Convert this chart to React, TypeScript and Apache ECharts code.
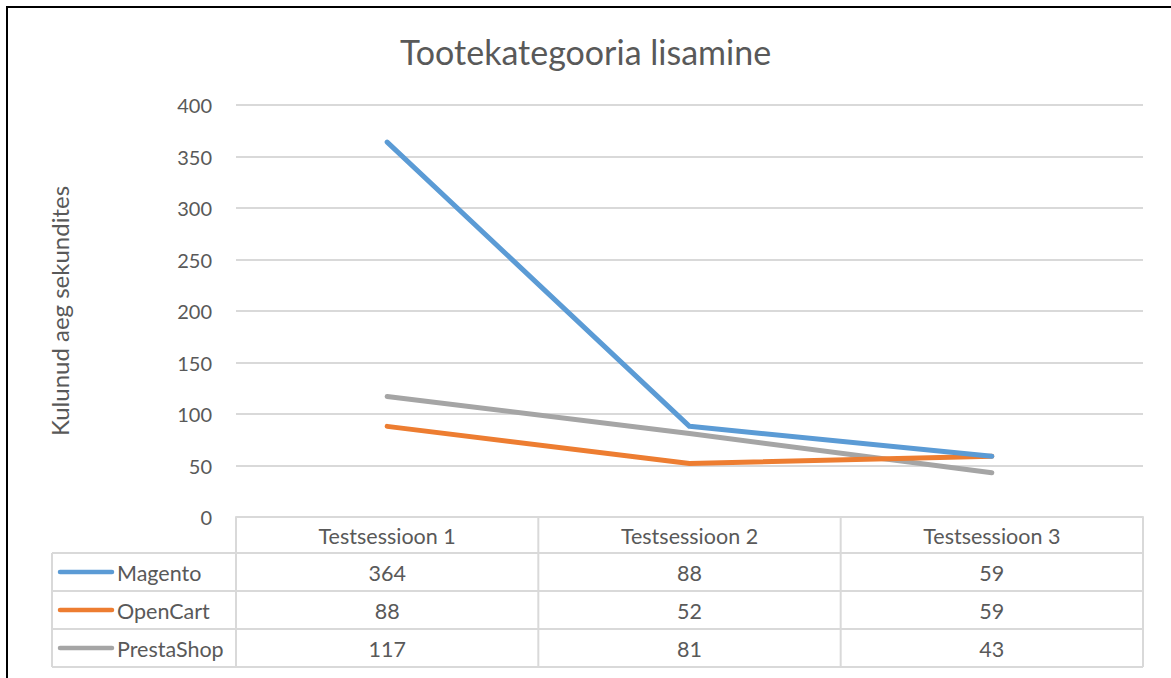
import React, { useEffect, useRef } from "react";
import * as echarts from "echarts";

const categories = ["Testsessioon 1", "Testsessioon 2", "Testsessioon 3"];
const seriesNames = ["Magento", "OpenCart", "PrestaShop"];
const magento = [364, 88, 59];
const openCart = [88, 52, 59];
const prestaShop = [117, 81, 43];
const yTicks = [0, 50, 100, 150, 200, 250, 300, 350, 400];

const colors = ["#5B9BD5", "#ED7D31", "#A5A5A5"];
const FONT = "Lato, 'Open Sans', sans-serif";
const TXT = "#595959";
const GRIDC = "#d9d9d9";

export default function App() {
  const ref = useRef<HTMLDivElement>(null);
  useEffect(() => {
    document.body.style.margin = "0";
    const chart = echarts.init(ref.current!, null, { renderer: "svg" });
    const W = 1171;
    const H = 678;
    const gl = 236, gr = 1143, gt = 105, gb = 517;
    const rowH = 38;
    const headerH = 36;
    const tableLeft = 52;
    const seriesData = [magento, openCart, prestaShop];
    const colW = (gr - gl) / categories.length;
    const g: any[] = [];
    // frame
    g.push({ type: "rect", shape: { x: 7, y: 7, width: W + 20, height: H + 20 }, style: { fill: "none", stroke: "#000", lineWidth: 2 }, silent: true });
    const line = (x1: number, y1: number, x2: number, y2: number) =>
      g.push({ type: "line", shape: { x1, y1, x2, y2 }, style: { stroke: GRIDC, lineWidth: 2 }, silent: true });
    const rowTop0 = gb + headerH;
    const tableBottom = rowTop0 + rowH * seriesNames.length;
    for (let i = 0; i <= categories.length; i++) {
      const x = gl + colW * i;
      line(x, gb, x, tableBottom);
    }
    line(tableLeft, rowTop0, tableLeft, tableBottom);
    for (let r = 0; r <= seriesNames.length; r++) {
      const y = rowTop0 + rowH * r;
      line(tableLeft, y, gr, y);
    }
    const tf = `21.5px ${FONT}`;
    categories.forEach((c, i) => {
      g.push({ type: "text", x: gl + colW * (i + 0.5), y: gb + headerH / 2 + 1, style: { text: c, fill: TXT, font: tf, align: "center", verticalAlign: "middle" }, silent: true });
    });
    seriesNames.forEach((n, r) => {
      const yc = rowTop0 + rowH * (r + 0.5);
      g.push({ type: "line", shape: { x1: 60, y1: yc, x2: 112, y2: yc }, style: { stroke: colors[r], lineWidth: 4.5, lineCap: "round" }, silent: true });
      g.push({ type: "text", x: 117, y: yc + 1, style: { text: n, fill: TXT, font: tf, align: "left", verticalAlign: "middle" }, silent: true });
      seriesData[r].forEach((v, i) => {
        g.push({ type: "text", x: gl + colW * (i + 0.5), y: yc + 1, style: { text: String(v), fill: TXT, font: tf, align: "center", verticalAlign: "middle" }, silent: true });
      });
    });

    chart.setOption({
      animation: false,
      backgroundColor: "#fff",
      title: {
        text: "Tootekategooria lisamine",
        left: "center",
        top: 29,
        textStyle: { color: TXT, fontSize: 34, fontWeight: "normal", fontFamily: FONT },
      },
      grid: { left: gl, right: W - gr, top: gt, bottom: H - gb, containLabel: false },
      xAxis: {
        type: "category",
        data: categories,
        boundaryGap: true,
        axisLine: { show: true, lineStyle: { color: GRIDC, width: 2 } },
        axisTick: { show: false },
        axisLabel: { show: false },
      },
      yAxis: {
        type: "value",
        min: yTicks[0],
        max: yTicks[yTicks.length - 1],
        interval: 50,
        name: "Kulunud aeg sekundites",
        nameLocation: "middle",
        nameGap: 165,
        nameRotate: 90,
        nameTextStyle: { color: TXT, fontSize: 24, fontFamily: FONT },
        axisLine: { show: false },
        axisTick: { show: false },
        axisLabel: { color: TXT, fontSize: 20, fontFamily: FONT, margin: 24 },
        splitLine: { lineStyle: { color: GRIDC, width: 2 } },
      },
      series: seriesNames.map((n, i) => ({
        name: n,
        type: "line",
        data: seriesData[i],
        showSymbol: false,
        symbol: "none",
        lineStyle: { color: colors[i], width: 5, cap: "round", join: "round" },
        itemStyle: { color: colors[i] },
        z: 3 + (seriesNames.length - i),
      })),
      graphic: g,
    });
    return () => chart.dispose();
  }, []);
  return <div ref={ref} style={{ width: 1171, height: 678 }} />;
}
